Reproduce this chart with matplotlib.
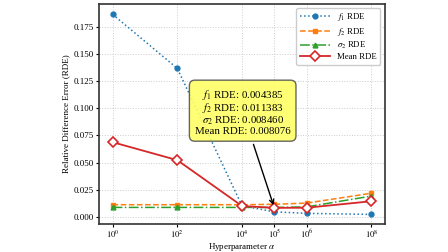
import numpy as np
import matplotlib.pyplot as plt

plt.rcParams['font.family'] = ['Liberation Serif', 'DejaVu Serif']
plt.rcParams['mathtext.fontset'] = 'stix'

# データ
alpha = [1e0, 1e2, 1e4, 1e5, 1e6, 1e8]
f1_rde = [0.187, 0.137, 0.0100, 0.004385, 0.0030, 0.0020]
f2_rde = [0.0110, 0.0110, 0.0110, 0.011383, 0.0125, 0.0216]
s2_rde = [0.0085, 0.0085, 0.0085, 0.008460, 0.0090, 0.0190]
mean_rde = [0.0688, 0.0522, 0.0098, 0.008076, 0.0082, 0.0142]
xticks = [1e0, 1e2, 1e4, 1e5, 1e6, 1e8]
xticklabels = [r'$10^{0}$', r'$10^{2}$', r'$10^{4}$', r'$10^{5}$', r'$10^{6}$', r'$10^{8}$']

fig = plt.figure(figsize=(4.48, 2.52), dpi=100)
ax = fig.add_axes([0.221, 0.113, 0.638, 0.873])

ax.plot(alpha, f1_rde, ':', color='#1f77b4', marker='o', markersize=3.5, lw=1.1, label=r'$f_1$ RDE')
ax.plot(alpha, f2_rde, '--', color='#ff7f0e', marker='s', markersize=3.5, lw=1.1, label=r'$f_2$ RDE')
ax.plot(alpha, s2_rde, '-.', color='#2ca02c', marker='^', markersize=3.5, lw=1.1, label=r'$\sigma_2$ RDE')
ax.plot(alpha, mean_rde, '-', color='#d62728', marker='D', markersize=5, lw=1.3,
        markerfacecolor='white', markeredgewidth=1.2, label='Mean RDE')

ax.set_xscale('log')
ax.set_xticks(xticks)
ax.set_xticklabels(xticklabels)
ax.minorticks_off()
ax.set_xlim(0.38, 2.6e8)
ax.set_ylim(-0.0064, 0.197)
ax.set_yticks(np.arange(0, 0.176, 0.025))
ax.tick_params(labelsize=6.5, pad=1.5, length=2.5)
ax.tick_params(axis='x', labelsize=6.2, pad=1)
ax.set_xlabel(r'Hyperparameter $\alpha$', fontsize=6.5, labelpad=0.5)
ax.set_ylabel('Relative Difference Error (RDE)', fontsize=6.5, labelpad=2)
ax.grid(True, linestyle=':', color='#cccccc', lw=0.7)
for s in ax.spines.values():
    s.set_linewidth(1.2)
    s.set_color('#333333')

i = 3
txt = (r'$f_1$ RDE: %.6f' % f1_rde[i] + '\n' + r'$f_2$ RDE: %.6f' % f2_rde[i] + '\n'
       + r'$\sigma_2$ RDE: %.6f' % s2_rde[i] + '\n' + 'Mean RDE: %.6f' % mean_rde[i])
ax.annotate(txt, xy=(alpha[i], mean_rde[i]), xytext=(1.05e4, 0.097), fontsize=7.8,
            ha='center', va='center', linespacing=0.95,
            bbox=dict(boxstyle='round,pad=0.5', fc='#ffff66', ec='#555555', alpha=0.9),
            arrowprops=dict(arrowstyle='->', color='black', lw=1))

ax.legend(loc='upper right', fontsize=6.3, handlelength=3.5, borderaxespad=0.5,
          labelspacing=0.25, borderpad=0.4, framealpha=1)

fig.savefig('out.png', dpi=100)
